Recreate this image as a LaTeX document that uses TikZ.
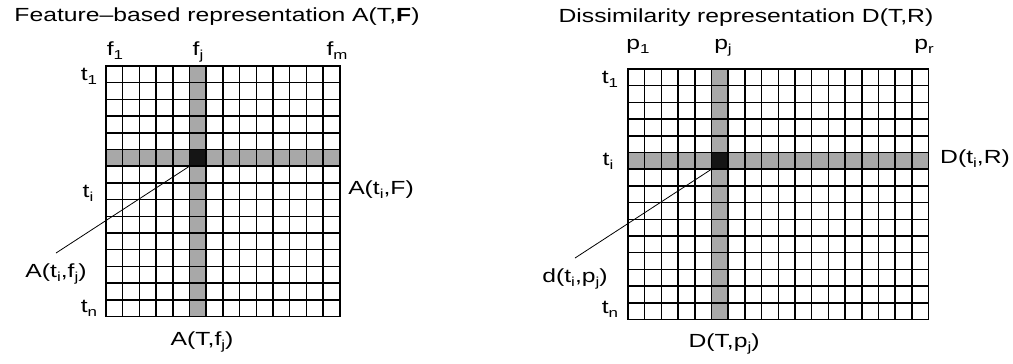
\documentclass[tikz,border=0pt]{standalone}
\usepackage{fontspec}
\setmainfont{Liberation Sans}
\usepackage{tikz}
\usetikzlibrary{calc}
\definecolor{band}{HTML}{A8A8A8}
\definecolor{hit}{HTML}{151515}

\newcommand{\cs}{16.7}
\newcommand{\ix}[1]{\raisebox{-4.5pt}{\fontsize{13}{14}\selectfont #1}}

\begin{document}
\begin{tikzpicture}[x=1pt, y=-1pt,
    lbl/.style={font=\fontsize{19}{21}\selectfont, inner sep=1pt, anchor=base, xscale=1.3},
    gridline/.style={line width=1.5pt, line cap=rect},
    leader/.style={line width=0.8pt}]
  \useasboundingbox (0,0) rectangle (1013,364);

  % feature-based matrix: 15 x 14
  \fill[band] ({106+5*\cs},66) rectangle ++(\cs,{15*\cs});
  \fill[band] (106,{66+5*\cs}) rectangle ++({14*\cs},\cs);
  \fill[hit]  ({106+5*\cs},{66+5*\cs}) rectangle ++(\cs,\cs);
  \foreach \c in {0,...,14}
    \draw[gridline] ({106+\c*\cs},66) -- ({106+\c*\cs},{66+15*\cs});
  \foreach \r in {0,...,15}
    \draw[gridline] (106,{66+\r*\cs}) -- ({106+14*\cs},{66+\r*\cs});
  \coordinate (cellA) at ({106+5*\cs},{66+6*\cs});

  % dissimilarity matrix: 15 x 18
  \fill[band] ({628+5*\cs},69) rectangle ++(\cs,{15*\cs});
  \fill[band] (628,{69+5*\cs}) rectangle ++({18*\cs},\cs);
  \fill[hit]  ({628+5*\cs},{69+5*\cs}) rectangle ++(\cs,\cs);
  \foreach \c in {0,...,18}
    \draw[gridline] ({628+\c*\cs},69) -- ({628+\c*\cs},{69+15*\cs});
  \foreach \r in {0,...,15}
    \draw[gridline] (628,{69+\r*\cs}) -- ({628+18*\cs},{69+\r*\cs});
  \coordinate (cellD) at ({628+5*\cs},{69+6*\cs});

  % titles
  \node[lbl] (titleA) at (217,21) {Feature–based representation A(T,\textbf{F})};
  \node[lbl] (titleD) at (746,23) {Dissimilarity representation D(T,R)};

  % left labels
  \node[lbl] (f1) at (115,55) {f\ix{1}};
  \node[lbl] (fj) at (198,55) {f\ix{j}};
  \node[lbl] (fm) at (337,55) {f\ix{m}};
  \node[lbl] (t1A) at (89,80) {t\ix{1}};
  \node[lbl] (tiA) at (88,197) {t\ix{i}};
  \node[lbl] (tnA) at (89,312) {t\ix{n}};
  \node[lbl] (rowA) at (381,194) {A(t\ix{i},F)};
  \node[lbl] (colA) at (202,345) {A(T,f\ix{j})};
  \node[lbl] (entA) at (56,277) {A(t\ix{i},f\ix{j})};

  % right labels
  \node[lbl] (p1) at (638,49) {p\ix{1}};
  \node[lbl] (pj) at (723,49) {p\ix{j}};
  \node[lbl] (pr) at (924,49) {p\ix{r}};
  \node[lbl] (t1D) at (610,83) {t\ix{1}};
  \node[lbl] (tiD) at (608,165) {t\ix{i}};
  \node[lbl] (tnD) at (610,313) {t\ix{n}};
  \node[lbl] (rowD) at (975,163) {D(t\ix{i},R)};
  \node[lbl] (colD) at (724,347) {D(T,p\ix{j})};
  \node[lbl] (entD) at (575,282) {d(t\ix{i},p\ix{j})};

  % leaders
  \draw[leader] ([yshift=9pt]entA.north) -- (cellA);
  \draw[leader] ([yshift=9pt]entD.north) -- (cellD);
\end{tikzpicture}
\end{document}
